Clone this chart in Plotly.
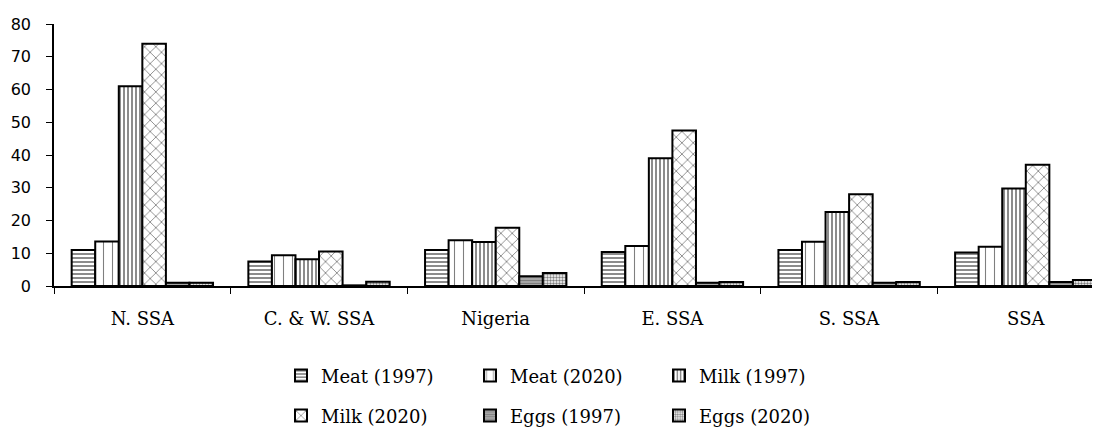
import plotly.graph_objects as go

categories = ["N. SSA", "C. & W. SSA", "Nigeria", "E. SSA", "S. SSA", "SSA"]
series_names = ["Meat (1997)", "Meat (2020)", "Milk (1997)", "Milk (2020)", "Eggs (1997)", "Eggs (2020)"]
meat_1997 = [11, 7.5, 11, 10.4, 11, 10.2]
meat_2020 = [13.6, 9.4, 14, 12.2, 13.5, 12]
milk_1997 = [61, 8.2, 13.4, 39, 22.6, 29.8]
milk_2020 = [74, 10.5, 17.8, 47.5, 28, 37]
eggs_1997 = [1, 0.2, 3, 1, 1, 1.2]
eggs_2020 = [1, 1.3, 4, 1.2, 1.2, 1.8]
y_ticks = [0, 10, 20, 30, 40, 50, 60, 70, 80]

values = [meat_1997, meat_2020, milk_1997, milk_2020, eggs_1997, eggs_2020]
patterns = [
    dict(shape="-", size=4, solidity=0.45),
    dict(shape="|", size=9, solidity=0.12),
    dict(shape="|", size=4, solidity=0.45),
    dict(shape="x", size=8, solidity=0.2),
    dict(shape="-", size=3, solidity=0.8),
    dict(shape=".", size=3, solidity=0.5),
]

fig = go.Figure()
for i, (name, vals, pat) in enumerate(zip(series_names, values, patterns)):
    fig.add_trace(go.Bar(
        x=categories, y=vals, name=name,
        marker=dict(color="white", line=dict(color="black", width=2),
                    pattern=dict(fgcolor="black", bgcolor="white", **pat)),
        legend="legend" if i < 3 else "legend2",
    ))

leg_common = dict(orientation="h", xanchor="left", yanchor="middle",
                  font=dict(family="DejaVu Serif", size=18, color="black"),
                  entrywidth=144, entrywidthmode="pixels",
                  bgcolor="rgba(0,0,0,0)", traceorder="normal")

fig.update_layout(
    width=1100, height=433,
    margin=dict(l=46, r=8, t=16, b=154),
    paper_bgcolor="white", plot_bgcolor="white",
    barmode="group", bargap=0.2, bargroupgap=0,
    showlegend=True,
    legend=dict(x=0.217, y=-0.338, **leg_common),
    legend2=dict(x=0.217, y=-0.49, **leg_common),
    xaxis=dict(range=[-0.5, 5.42], showline=True, linecolor="black", linewidth=1.5,
               ticks="outside", tickson="boundaries", ticklen=6, tickcolor="black",
               showgrid=False, ticklabelstandoff=16, automargin=False,
               tickfont=dict(family="DejaVu Serif", size=18, color="black")),
    yaxis=dict(range=[0, 80], tickvals=y_ticks, showline=True, linecolor="black",
               linewidth=1.5, ticks="outside", ticklen=6, tickcolor="black",
               showgrid=False, zeroline=False, automargin=False, ticklabelstandoff=12,
               tickfont=dict(family="DejaVu Sans", size=16, color="black")),
)

fig.write_html("out.html")
